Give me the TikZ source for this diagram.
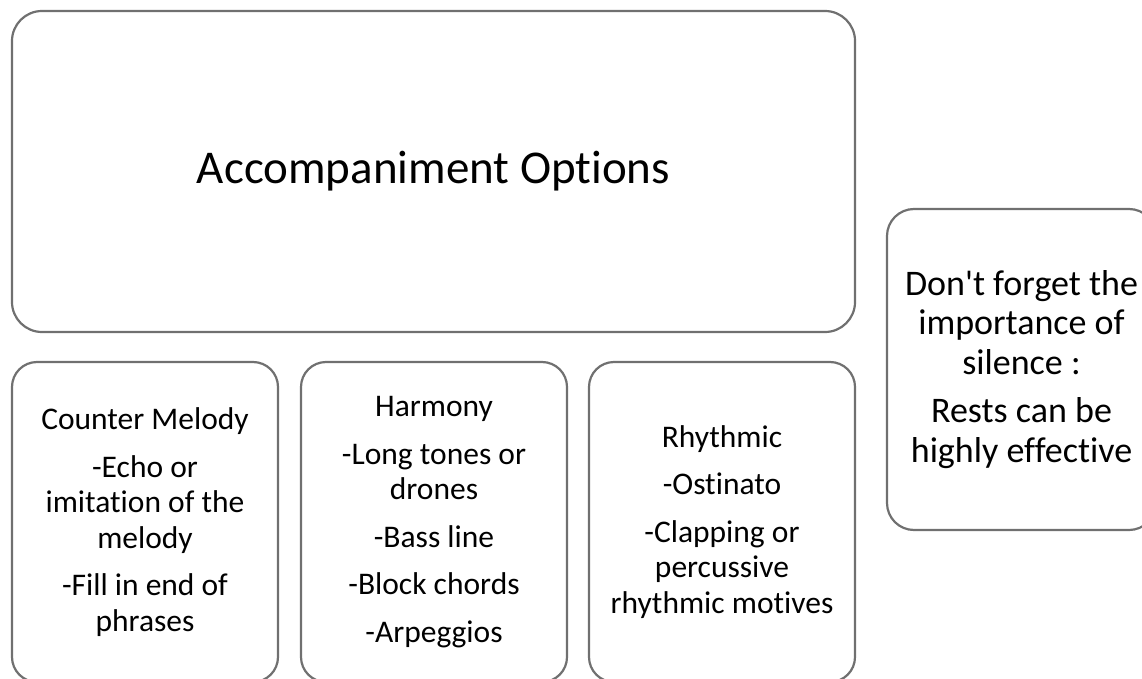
\documentclass[tikz,border=0pt]{standalone}
\usepackage{fontspec}
\setmainfont{Carlito}[Ligatures={NoCommon,TeXOff}]
\definecolor{boxgray}{RGB}{112,112,112}
\begin{document}
\begin{tikzpicture}[x=1pt,y=-1pt,
  card/.style={draw=boxgray, line width=2.2pt, fill=none, rectangle, inner sep=0pt,
    align=center, text=black},
  bigtext/.style={font=\fontsize{47}{56}\selectfont},
  smalltext/.style={font=\fontsize{31.5}{35.5}\selectfont},
  sidetext/.style={font=\fontsize{36}{39.5}\selectfont}]
\useasboundingbox (0,0) rectangle (1142,679);
\node[card, bigtext, rounded corners=30pt, minimum width=843pt, minimum height=321pt]
  (main) at (433.5,171.5) {Accompaniment Options};
\node[card, smalltext, rounded corners=25pt, minimum width=266pt, minimum height=320pt]
  (counter) at (145,522) {Counter Melody\\[12pt]-Echo or\\imitation of the\\melody\\[12pt]-Fill in end of\\phrases};
\node[card, smalltext, rounded corners=25pt, minimum width=266pt, minimum height=320pt]
  (harmony) at (434,522) {Harmony\\[12pt]-Long tones or\\drones\\[12pt]-Bass line\\[12pt]-Block chords\\[12pt]-Arpeggios};
\node[card, smalltext, rounded corners=25pt, minimum width=266pt, minimum height=320pt]
  (rhythmic) at (722,522) {Rhythmic\\[12pt]-Ostinato\\[12pt]-Clapping or\\percussive\\rhythmic motives};
\node[card, sidetext, rounded corners=27pt, minimum width=269pt, minimum height=321pt]
  (silence) at (1021.5,369.5) {Don't forget the\\importance of\\silence :\\[9pt]Rests can be\\highly effective};
\end{tikzpicture}
\end{document}
